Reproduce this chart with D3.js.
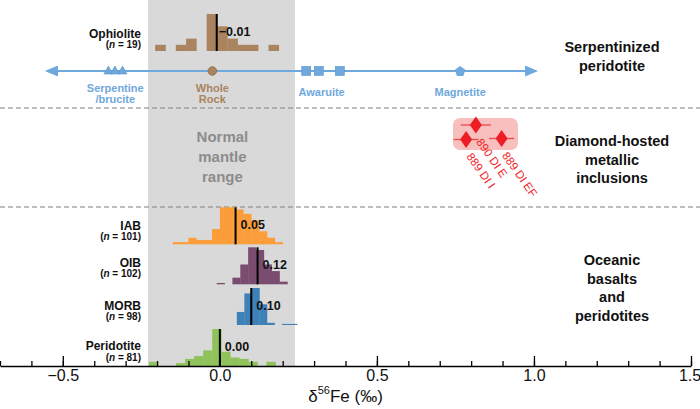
<!DOCTYPE html>
<html><head><meta charset="utf-8">
<script src="https://cdn.jsdelivr.net/npm/d3@7"></script>
<style>
html,body{margin:0;padding:0;background:#fff;}
svg{display:block;font-family:"Liberation Sans",Arial,Helvetica,sans-serif;}
</style></head><body>
<svg id="chart" width="700" height="409"></svg>
<script>
// ---------- data ----------
const groups = ["Ophiolite", "IAB", "OIB", "MORB", "Peridotite"];
const groupN = [19, 101, 102, 98, 81];
const groupMeans = [-0.01, 0.05, 0.12, 0.10, 0.00];
const meanLabels = ["\u22120.01", "0.05", "0.12", "0.10", "0.00"];
const binStarts = [-0.206, -0.15, -0.01, 0.054, -0.226];
const binWidths = [0.0328, 0.025, 0.025, 0.024, 0.0288];
const ophioliteCounts = [1, 0, 1, 2, 0, 6, 4, 2, 1, 1, 0, 1];
const iabCounts = [1, 1, 3, 2, 2, 7, 17, 17, 16, 14, 11, 6, 3, 1];
const oibCounts = [1, 0, 5, 15, 28, 26, 15, 10, 2];
const morbCounts = [12, 29, 34, 19, 2, 0, 1, 1];
const peridotiteCounts = [3, 0, 0, 2, 5, 7, 11, 26, 10, 6, 5, 3, 0, 3];
const groupCounts = [ophioliteCounts, iabCounts, oibCounts, morbCounts, peridotiteCounts];

const serpentineValues = [-0.355, -0.334, -0.31];
const wholeRockValues = [-0.024];
const awaruiteValues = [0.275, 0.315, 0.382];
const magnetiteValues = [0.765];
const serpentinizedRange = [-0.557, 1.013];
const normalMantleRange = [-0.229, 0.239];

const diamondSamples = ["889 DI I", "890 DI E", "889 DI EF"];
const diamondValues = [0.784, 0.815, 0.897];
const diamondErrors = [0.04, 0.048, 0.04];

const xDomain = [-0.7, 1.5];
const xMajorTicks = [-0.5, 0.0, 0.5, 1.0, 1.5];
const xMinorTicks = d3.range(-7, 16).map(d => d / 10);

// ---------- layout ----------
const W = 700, H = 409;
const axisY = 366;
const histBase = [51, 244.3, 284.3, 325, 366];
const histMaxH = 37;
const nameY = [33, 225, 262, 305, 345];
const nY = [44.5, 236.5, 273.5, 316.5, 357];
const colors = ["#a9845f", "#fb9e3a", "#7a4d70", "#3e80b8", "#8fc25b"];
const serpY = 71;
const blue = "#6fa8dc";
const brown = "#a9845f";
const red = "#ee1c24";
const narrow = "'Liberation Sans Narrow','Arial Narrow','Liberation Sans',Arial,sans-serif";

const svg = d3.select("#chart");
const x = d3.scaleLinear().domain(xDomain).range([0, 691]);

// normal mantle band
svg.append("rect")
  .attr("x", x(normalMantleRange[0])).attr("y", 0)
  .attr("width", x(normalMantleRange[1]) - x(normalMantleRange[0]))
  .attr("height", axisY).attr("fill", "#d9d9d9");

svg.append("g").attr("font-weight", "bold").attr("font-size", 15).attr("fill", "#8c8c8c")
  .attr("text-anchor", "middle")
  .selectAll("text").data(["Normal", "mantle", "range"]).join("text")
  .attr("x", (x(normalMantleRange[0]) + x(normalMantleRange[1])) / 2 + 1)
  .attr("y", (d, i) => 142 + i * 20).text(d => d);

// dashed separators
[108, 207].forEach(yy => svg.append("line").attr("x1", 0).attr("x2", W)
  .attr("y1", yy).attr("y2", yy).attr("stroke", "#808080")
  .attr("stroke-width", 1.2).attr("stroke-dasharray", "5,3"));

// histograms
groups.forEach((g, gi) => {
  const counts = groupCounts[gi];
  const maxC = d3.max(counts);
  const hScale = d3.scaleLinear().domain([0, maxC]).range([0, histMaxH]);
  const gg = svg.append("g");
  gg.selectAll("rect").data(counts).join("rect")
    .attr("x", (d, i) => x(binStarts[gi] + i * binWidths[gi]))
    .attr("width", (d, i) => x(binStarts[gi] + (i + 1) * binWidths[gi]) - x(binStarts[gi] + i * binWidths[gi]) + 0.3)
    .attr("y", d => histBase[gi] - hScale(d))
    .attr("height", d => hScale(d))
    .attr("fill", colors[gi]);
  gg.append("line")
    .attr("x1", x(groupMeans[gi])).attr("x2", x(groupMeans[gi]))
    .attr("y1", histBase[gi] - histMaxH).attr("y2", histBase[gi])
    .attr("stroke", "#000").attr("stroke-width", 2);
  gg.append("text")
    .attr("x", x(groupMeans[gi]) + (gi === 0 ? 2 : 5))
    .attr("y", histBase[gi] - 15.5)
    .attr("font-size", 12.5).attr("font-weight", "bold").attr("fill", "#111")
    .text(meanLabels[gi]);
  // names
  svg.append("text").attr("x", 141).attr("y", nameY[gi] + 4.5)
    .attr("text-anchor", "end").attr("font-weight", "bold").attr("font-size", 12)
    .attr("fill", "#111").text(g);
  const t = svg.append("text").attr("x", 141).attr("y", nY[gi] + 3.5)
    .attr("text-anchor", "end").attr("font-weight", "bold").attr("font-size", 10)
    .attr("fill", "#111");
  t.append("tspan").text("(");
  t.append("tspan").attr("font-style", "italic").text("n");
  t.append("tspan").text(" = " + groupN[gi] + ")");
});

// serpentinized line with arrows
const xl = x(serpentinizedRange[0]), xr = x(serpentinizedRange[1]);
svg.append("line").attr("x1", xl + 8).attr("x2", xr - 8).attr("y1", serpY).attr("y2", serpY)
  .attr("stroke", blue).attr("stroke-width", 2);
svg.append("path").attr("d", `M${xl},${serpY}L${xl + 13},${serpY - 5.5}L${xl + 13},${serpY + 5.5}Z`).attr("fill", blue);
svg.append("path").attr("d", `M${xr},${serpY}L${xr - 13},${serpY - 5.5}L${xr - 13},${serpY + 5.5}Z`).attr("fill", blue);

svg.append("g").selectAll("path").data(serpentineValues).join("path")
  .attr("d", d => `M${x(d)},${serpY - 5}L${x(d) + 4.5},${serpY + 3}L${x(d) - 4.5},${serpY + 3}Z`)
  .attr("fill", blue).attr("stroke", "#5b95cc").attr("stroke-width", 0.6);
svg.append("g").selectAll("circle").data(wholeRockValues).join("circle")
  .attr("cx", d => x(d)).attr("cy", serpY).attr("r", 4.3)
  .attr("fill", brown).attr("stroke", "#8a6743").attr("stroke-width", 0.8);
svg.append("g").selectAll("rect").data(awaruiteValues).join("rect")
  .attr("x", d => x(d) - 4.5).attr("y", serpY - 4.5).attr("width", 9).attr("height", 9)
  .attr("fill", blue).attr("stroke", "#5b95cc").attr("stroke-width", 0.6);
const pent = d3.range(5).map(k => {
  const a = -Math.PI / 2 + k * 2 * Math.PI / 5;
  return [5.5 * Math.cos(a), 5.5 * Math.sin(a) + 0.5];
});
svg.append("g").selectAll("path").data(magnetiteValues).join("path")
  .attr("d", d => "M" + pent.map(p => (x(d) + p[0]) + "," + (serpY + p[1])).join("L") + "Z")
  .attr("fill", blue);

const mineralLabels = [
  {v: d3.mean(serpentineValues), lines: ["Serpentine", "/brucite"], c: blue, y0: 87.5},
  {v: d3.mean(wholeRockValues), lines: ["Whole", "Rock"], c: brown, y0: 87.5},
  {v: d3.mean(awaruiteValues), lines: ["Awaruite"], c: blue, y0: 92},
  {v: d3.mean(magnetiteValues), lines: ["Magnetite"], c: blue, y0: 92}
];
mineralLabels.forEach(m => {
  m.lines.forEach((l, i) => svg.append("text").attr("x", x(m.v)).attr("y", m.y0 + i * 11.5 + 4)
    .attr("text-anchor", "middle").attr("font-size", 11).attr("font-weight", "bold")
    .attr("fill", m.c).text(l));
});

// diamond-hosted inclusions
svg.append("rect").attr("x", 453).attr("y", 118).attr("width", 65).attr("height", 32)
  .attr("rx", 7).attr("fill", "#f8bfbf");
const diamondY = [139.5, 125, 138.5];
diamondValues.forEach((v, i) => {
  svg.append("line").attr("x1", x(v - diamondErrors[i])).attr("x2", x(v + diamondErrors[i]))
    .attr("y1", diamondY[i]).attr("y2", diamondY[i]).attr("stroke", "#f04848").attr("stroke-width", 1.3);
});
diamondValues.forEach((v, i) => {
  const cx = x(v), cy = diamondY[i];
  svg.append("path").attr("d", `M${cx},${cy - 8.5}L${cx + 6},${cy}L${cx},${cy + 8.5}L${cx - 6},${cy}Z`)
    .attr("fill", red);
  svg.append("text").attr("transform", `translate(${cx},${cy + 17}) rotate(55)`)
    .attr("font-size", 11.5).attr("fill", red).text(diamondSamples[i]);
});

// right-hand group labels
const rightLabels = [
  {lines: ["Serpentinized", "peridotite"], y0: 47},
  {lines: ["Diamond-hosted", "metallic", "inclusions"], y0: 141},
  {lines: ["Oceanic", "basalts", "and", "peridotites"], y0: 260}
];
rightLabels.forEach(r => r.lines.forEach((l, i) => svg.append("text")
  .attr("x", 612).attr("y", r.y0 + i * 18.7 + 5).attr("text-anchor", "middle")
  .attr("font-size", 14.5).attr("font-weight", "bold").attr("fill", "#111").text(l)));

// axis
const ax = svg.append("g").attr("transform", `translate(0,${axisY})`);
ax.call(d3.axisBottom(x).tickValues(xMinorTicks).tickSize(-5).tickFormat(""))
  .call(g => g.select(".domain").remove());
ax.append("g").call(d3.axisBottom(x).tickValues(xMajorTicks).tickSize(-10).tickSizeOuter(0).tickPadding(4)
  .tickFormat(d => d < 0 ? "\u2212" + Math.abs(d).toFixed(1) : d.toFixed(1)))
  .call(g => g.selectAll("text").attr("font-size", 16).attr("fill", "#111")
    .attr("font-family", narrow)
    .attr("dx", d => d === 1.5 ? -1.5 : 0));
ax.selectAll("line").attr("stroke", "#000").attr("stroke-width", 1.3);
ax.select(".domain").attr("stroke", "#000").attr("stroke-width", 1.6);

const title = svg.append("text").attr("x", x(0.4)).attr("y", 402).attr("text-anchor", "middle")
  .attr("font-size", 17).attr("fill", "#111").attr("font-family", narrow);
title.append("tspan").text("\u03b4");
title.append("tspan").attr("font-size", 11).attr("dy", -8).text("56");
title.append("tspan").attr("dy", 8).text("Fe (\u2030)");
</script>
</body></html>
